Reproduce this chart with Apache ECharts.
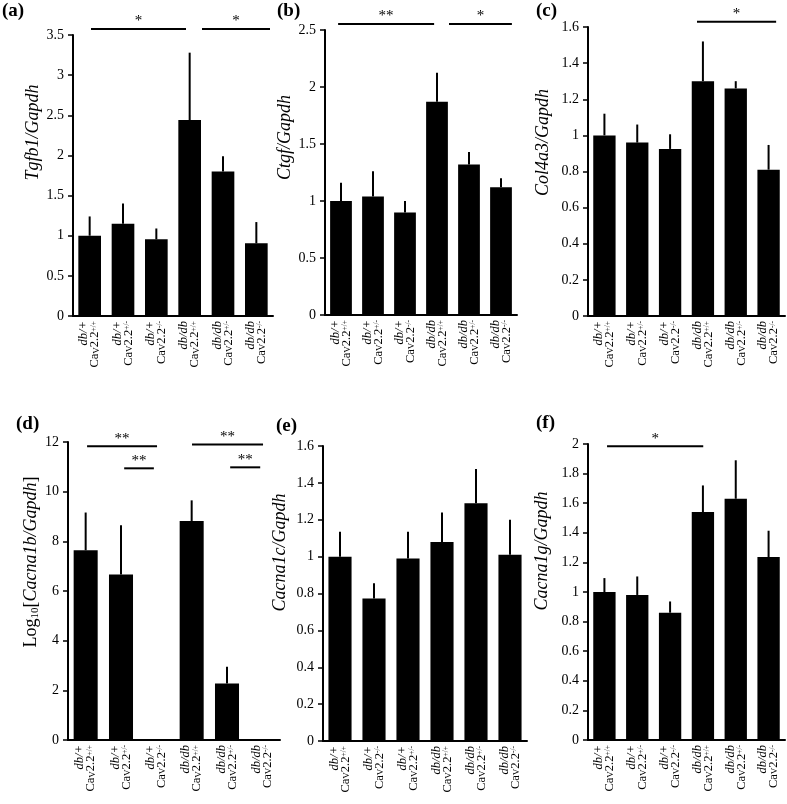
<!DOCTYPE html>
<html>
<head>
<meta charset="utf-8">
<script src="https://cdn.jsdelivr.net/npm/echarts@6/dist/echarts.min.js"></script>
<style>html,body{margin:0;padding:0;background:#fff;}#c{width:787px;height:804px;}</style>
</head>
<body>
<div id="c"></div>
<script>
// ---- data ----
const strains = ['db/+', 'db/+', 'db/+', 'db/db', 'db/db', 'db/db'];
const cavStd = ['+/+', '+/-', '-/-', '+/+', '+/-', '-/-'];
const cavE = ['+/+', '-/-', '+/-', '+/+', '+/-', '-/-'];

const tgfb1Mean = [1.0, 1.15, 0.955, 2.44, 1.80, 0.905];
const tgfb1Top  = [1.24, 1.40, 1.09, 3.28, 1.99, 1.17];
const ctgfMean = [1.0, 1.04, 0.90, 1.87, 1.32, 1.12];
const ctgfTop  = [1.16, 1.26, 1.0, 2.125, 1.43, 1.20];
const col4a3Mean = [1.0, 0.96, 0.925, 1.30, 1.26, 0.81];
const col4a3Top  = [1.12, 1.06, 1.006, 1.52, 1.30, 0.947];
const cacna1bMean = [7.64, 6.66, 0, 8.82, 2.28, 0];
const cacna1bTop  = [9.16, 8.65, null, 9.65, 2.95, null];
const cacna1cMean = [1.0, 0.773, 0.99, 1.08, 1.29, 1.01];
const cacna1cTop  = [1.135, 0.855, 1.135, 1.24, 1.475, 1.20];
const cacna1gMean = [1.0, 0.98, 0.86, 1.54, 1.63, 1.236];
const cacna1gTop  = [1.094, 1.105, 0.936, 1.72, 1.89, 1.414];

// significance brackets: [from index, to index, level, mark]
const sigA = [[0.04, 2.89, 3.575, '*'], [3.37, 5.41, 3.575, '*']];
const sigB = [[-0.09, 2.91, 2.553, '**'], [3.375, 5.34, 2.553, '*']];
const sigC = [[2.82, 5.23, 1.629, '*']];
const sigD = [[0.04, 2.02, 11.83, '**'], [1.09, 1.93, 10.94, '**'], [3.01, 5.02, 11.9, '**'], [4.09, 4.94, 10.98, '**']];
const sigE = [];
const sigF = [[0.08, 3.01, 1.984, '*']];

// ---- layout/style ----
const FONT = 'Liberation Serif';
const panels = [
  {tag:'(a)', tx:2, ty:2, mean:tgfb1Mean, top:tgfb1Top, sig:sigA, cav:cavStd, max:3.5, interval:0.5,
   name:'{i|Tgfb1/Gapdh}', gap:30, shift:43, g:{left:73, top:35, width:200, height:281}},
  {tag:'(b)', tx:277, ty:2, mean:ctgfMean, top:ctgfTop, sig:sigB, cav:cavStd, max:2.5, interval:0.5,
   name:'{i|Ctgf/Gapdh}', gap:28, shift:35, g:{left:325, top:30, width:192, height:285}},
  {tag:'(c)', tx:536, ty:2, mean:col4a3Mean, top:col4a3Top, sig:sigC, cav:cavStd, max:1.6, interval:0.2,
   name:'{i|Col4a3/Gapdh}', gap:35, shift:29, g:{left:588, top:27, width:197, height:289}},
  {tag:'(d)', tx:16, ty:415, mean:cacna1bMean, top:cacna1bTop, sig:sigD, cav:cavStd, max:12, interval:2,
   name:'{n|Log}{sub|10}{n|[}{i|Cacna1b/Gapdh}{n|]}', gap:26, shift:29, g:{left:68, top:442, width:212, height:298}},
  {tag:'(e)', tx:276, ty:417, mean:cacna1cMean, top:cacna1cTop, sig:sigE, cav:cavE, max:1.6, interval:0.2,
   name:'{i|Cacna1c/Gapdh}', gap:33, shift:41, g:{left:323, top:446, width:204, height:295}},
  {tag:'(f)', tx:536, ty:414, mean:cacna1gMean, top:cacna1gTop, sig:sigF, cav:cavStd, max:2, interval:0.2,
   name:'{i|Cacna1g/Gapdh}', gap:36, shift:41, g:{left:588, top:444, width:197, height:296}}
];

const xRich = {
  i: {fontFamily: FONT, fontStyle: 'italic', fontSize: 12.5, lineHeight: 11, color: '#000'},
  n: {fontFamily: FONT, fontSize: 12.5, lineHeight: 11, color: '#000'},
  sub: {fontFamily: FONT, fontSize: 9, lineHeight: 8, verticalAlign: 'bottom', color: '#000'},
  sup: {fontFamily: FONT, fontSize: 7.5, lineHeight: 7, verticalAlign: 'top', color: '#000'}
};
const nameRich = {
  i: {fontFamily: FONT, fontStyle: 'italic', fontSize: 18, lineHeight: 19, color: '#000'},
  n: {fontFamily: FONT, fontSize: 18, lineHeight: 19, color: '#000'},
  sub: {fontFamily: FONT, fontSize: 11, lineHeight: 11, verticalAlign: 'bottom', color: '#000'}
};

const option = {
  animation: false,
  backgroundColor: '#fff',
  title: [], grid: [], xAxis: [], yAxis: [], series: []
};

panels.forEach((p, k) => {
  option.title.push({
    text: p.tag, left: p.tx, top: p.ty, padding: 0,
    textStyle: {fontFamily: FONT, fontWeight: 'bold', fontSize: 19, color: '#000'}
  });
  option.grid.push(Object.assign({containLabel: false, outerBoundsMode: 'none'}, p.g));
  option.xAxis.push({
    gridIndex: k, type: 'category',
    data: strains.map((s, i) => s + '|' + p.cav[i]),
    axisLine: {show: true, lineStyle: {color: '#000', width: 2}},
    axisTick: {show: false},
    splitLine: {show: false},
    axisLabel: {
      interval: 0, rotate: 90, margin: 5,
      formatter: v => {
        const parts = v.split('|');
        return '{i|' + parts[0] + '}\n{n|Ca}{sub|V}{n|2.2}{sup|' + parts[1] + '}';
      },
      rich: xRich
    }
  });
  option.xAxis.push({gridIndex: k, type: 'value', min: -0.5, max: 5.5, show: false});
  option.yAxis.push({
    gridIndex: k, type: 'value', min: 0, max: p.max, interval: p.interval,
    axisLine: {show: true, onZero: false, lineStyle: {color: '#000', width: 2}},
    axisTick: {show: true, length: 5, lineStyle: {color: '#000', width: 1.5}},
    splitLine: {show: false},
    axisLabel: {color: '#000', fontFamily: FONT, fontSize: 14, margin: 9},
    name: p.name, nameLocation: 'middle', nameRotate: 90, nameGap: p.gap,
    nameTextStyle: {rich: nameRich, padding: [0, 0, 0, 2 * p.shift]}
  });
  option.series.push({
    type: 'bar', xAxisIndex: 2 * k, yAxisIndex: k,
    data: p.mean, barWidth: '68%',
    itemStyle: {color: '#000'}
  });
  const errIdx = [];
  p.mean.forEach((m, i) => { if (p.top[i] != null) errIdx.push(i); });
  option.series.push({
    type: 'custom', xAxisIndex: 2 * k, yAxisIndex: k, clip: false, z: 3,
    data: errIdx.map(i => [i, p.mean[i], p.top[i]]),
    renderItem: (params, api) => {
      const i = errIdx[params.dataIndex];
      const a = api.coord([i, p.mean[i]]);
      const b = api.coord([i, p.top[i]]);
      return {type: 'line', shape: {x1: a[0], y1: a[1], x2: b[0], y2: b[1]},
              style: {stroke: '#000', lineWidth: 2}};
    }
  });
  if (p.sig.length) {
    const sig = p.sig;
    option.series.push({
      type: 'custom', xAxisIndex: 2 * k + 1, yAxisIndex: k, clip: false, z: 4,
      data: sig.map(s => [s[0], s[2]]),
      renderItem: (params, api) => {
        const s = sig[params.dataIndex];
        const a = api.coord([s[0], s[2]]);
        const b = api.coord([s[1], s[2]]);
        return {type: 'group', children: [
          {type: 'line', shape: {x1: a[0], y1: a[1], x2: b[0], y2: b[1]},
           style: {stroke: '#000', lineWidth: 2}},
          {type: 'text', x: (a[0] + b[0]) / 2, y: a[1],
           style: {text: s[3], fill: '#000', font: '15px "Liberation Serif"',
                   align: 'center', verticalAlign: 'bottom'}}
        ]};
      }
    });
  }
});

const chart = echarts.init(document.getElementById('c'), null, {renderer: 'canvas'});
chart.setOption(option);
</script>
</body>
</html>
